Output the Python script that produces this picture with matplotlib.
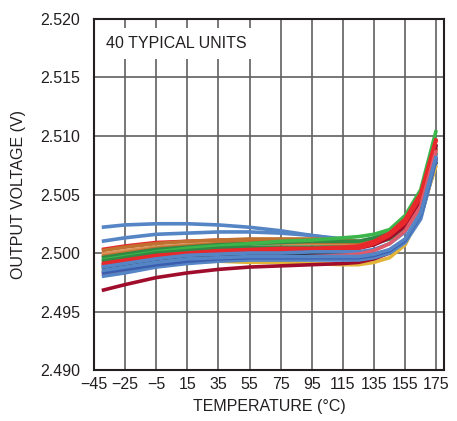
import matplotlib
matplotlib.use("Agg")
import matplotlib.pyplot as plt
import numpy as np

plt.rcParams['font.family'] = ['Liberation Sans Narrow', 'Liberation Sans', 'DejaVu Sans']

temps = [-40, -25, -5, 15, 35, 55, 75, 95, 115, 125, 135, 145, 155, 165, 175]

# output voltage of each unit, one row per temperature list above
units = [
    ("#5585c5", [2.5022, 2.5024, 2.5025, 2.5025, 2.5024, 2.5022, 2.5019, 2.5015, 2.5011, 2.5009, 2.5011, 2.5015, 2.5026, 2.5048, 2.5092]),
    ("#5585c5", [2.5010, 2.5013, 2.5016, 2.5017, 2.5018, 2.5018, 2.5017, 2.5015, 2.5012, 2.5010, 2.5011, 2.5014, 2.5024, 2.5046, 2.5090]),
    ("#e8282b", [2.5003, 2.5006, 2.5009, 2.5010, 2.5011, 2.5011, 2.5011, 2.5010, 2.5009, 2.5009, 2.5012, 2.5017, 2.5027, 2.5048, 2.5097]),
    ("#c0712f", [2.5002, 2.5005, 2.5008, 2.5010, 2.5011, 2.5012, 2.5012, 2.5012, 2.5011, 2.5010, 2.5012, 2.5016, 2.5025, 2.5045, 2.5090]),
    ("#d99159", [2.4999, 2.5002, 2.5005, 2.5007, 2.5008, 2.5008, 2.5008, 2.5008, 2.5007, 2.5007, 2.5009, 2.5013, 2.5022, 2.5042, 2.5086]),
    ("#c0712f", [2.4997, 2.5000, 2.5004, 2.5006, 2.5008, 2.5009, 2.5009, 2.5009, 2.5009, 2.5009, 2.5011, 2.5015, 2.5024, 2.5044, 2.5089]),
    ("#2f8a45", [2.4996, 2.4999, 2.5003, 2.5005, 2.5007, 2.5008, 2.5009, 2.5010, 2.5010, 2.5010, 2.5013, 2.5017, 2.5027, 2.5047, 2.5093]),
    ("#3cb54a", [2.4994, 2.4997, 2.5001, 2.5004, 2.5006, 2.5008, 2.5010, 2.5011, 2.5013, 2.5014, 2.5016, 2.5020, 2.5032, 2.5054, 2.5105]),
    ("#2f8a45", [2.4993, 2.4996, 2.5000, 2.5002, 2.5004, 2.5005, 2.5005, 2.5005, 2.5005, 2.5005, 2.5008, 2.5012, 2.5021, 2.5041, 2.5086]),
    ("#a00d2c", [2.4990, 2.4993, 2.4997, 2.4999, 2.5001, 2.5002, 2.5003, 2.5003, 2.5003, 2.5004, 2.5007, 2.5013, 2.5023, 2.5044, 2.5093]),
    ("#e8282b", [2.4991, 2.4994, 2.4998, 2.5000, 2.5002, 2.5003, 2.5004, 2.5004, 2.5005, 2.5006, 2.5010, 2.5017, 2.5029, 2.5051, 2.5098]),
    ("#231f20", [2.4987, 2.4990, 2.4994, 2.4996, 2.4998, 2.4999, 2.4999, 2.4999, 2.4998, 2.4998, 2.4999, 2.5002, 2.5010, 2.5031, 2.5078]),
    ("#e8282b", [2.4989, 2.4992, 2.4996, 2.4999, 2.5001, 2.5002, 2.5002, 2.5003, 2.5003, 2.5004, 2.5008, 2.5015, 2.5026, 2.5048, 2.5097]),
    ("#5585c5", [2.4988, 2.4991, 2.4995, 2.4998, 2.4999, 2.5000, 2.5000, 2.5001, 2.5001, 2.5001, 2.5003, 2.5008, 2.5018, 2.5039, 2.5085]),
    ("#e2b43a", [2.4984, 2.4987, 2.4990, 2.4992, 2.4993, 2.4992, 2.4992, 2.4991, 2.4990, 2.4990, 2.4992, 2.4996, 2.5007, 2.5034, 2.5075]),
    ("#a00d2c", [2.4968, 2.4973, 2.4979, 2.4983, 2.4986, 2.4988, 2.4989, 2.4990, 2.4991, 2.4992, 2.4995, 2.5000, 2.5011, 2.5032, 2.5082]),
    ("#e05a6a", [2.4982, 2.4985, 2.4989, 2.4992, 2.4994, 2.4995, 2.4996, 2.4997, 2.4998, 2.4999, 2.5002, 2.5008, 2.5019, 2.5040, 2.5088]),
    ("#5585c5", [2.4980, 2.4983, 2.4988, 2.4991, 2.4993, 2.4994, 2.4994, 2.4994, 2.4994, 2.4994, 2.4996, 2.5000, 2.5009, 2.5029, 2.5080]),
    ("#3a5dae", [2.4983, 2.4986, 2.4990, 2.4993, 2.4995, 2.4996, 2.4996, 2.4996, 2.4996, 2.4996, 2.4998, 2.5002, 2.5011, 2.5033, 2.5081]),
    ("#5585c5", [2.4985, 2.4988, 2.4992, 2.4995, 2.4996, 2.4997, 2.4997, 2.4997, 2.4997, 2.4997, 2.4999, 2.5003, 2.5012, 2.5034, 2.5083]),
]

xticks = [-45, -25, -5, 15, 35, 55, 75, 95, 115, 135, 155, 175]
yticks = [2.490, 2.495, 2.500, 2.505, 2.510, 2.515, 2.520]

fig = plt.figure(figsize=(4.57, 4.21), dpi=100)
ax = fig.add_axes([0.2057, 0.1211, 0.7659, 0.8338])

for color, volts in units:
    ax.plot(temps, volts, color=color, lw=2.6, solid_capstyle='butt', zorder=3)

ax.set_xlim(-45, 180)
ax.set_ylim(2.490, 2.520)
ax.set_xticks(xticks)
ax.set_xticklabels([str(t).replace('-', '\u2212') for t in xticks])
ax.set_yticks(yticks)
ax.set_yticklabels(["%.3f" % v for v in yticks])
ax.grid(True, color="#606060", lw=1.2, zorder=1)
ax.tick_params(length=0, labelsize=11.5, colors="#231f20")
ax.tick_params(axis='y', pad=10)
ax.tick_params(axis='x', pad=5)
for s in ax.spines.values():
    s.set_linewidth(1.5)
    s.set_color("#231f20")
    s.set_zorder(5)

ax.text(-37.5, 2.5179, "40 TYPICAL UNITS", fontsize=11.5, color="#231f20", va='center', ha='left',
        zorder=4, bbox=dict(facecolor='white', edgecolor='none', pad=6))

ax.set_xlabel("TEMPERATURE (°C)", fontsize=11.5, color="#231f20", labelpad=5)
ax.set_ylabel("OUTPUT VOLTAGE (V)", fontsize=11.5, color="#231f20", labelpad=10)

fig.savefig("out.png", dpi=100)
